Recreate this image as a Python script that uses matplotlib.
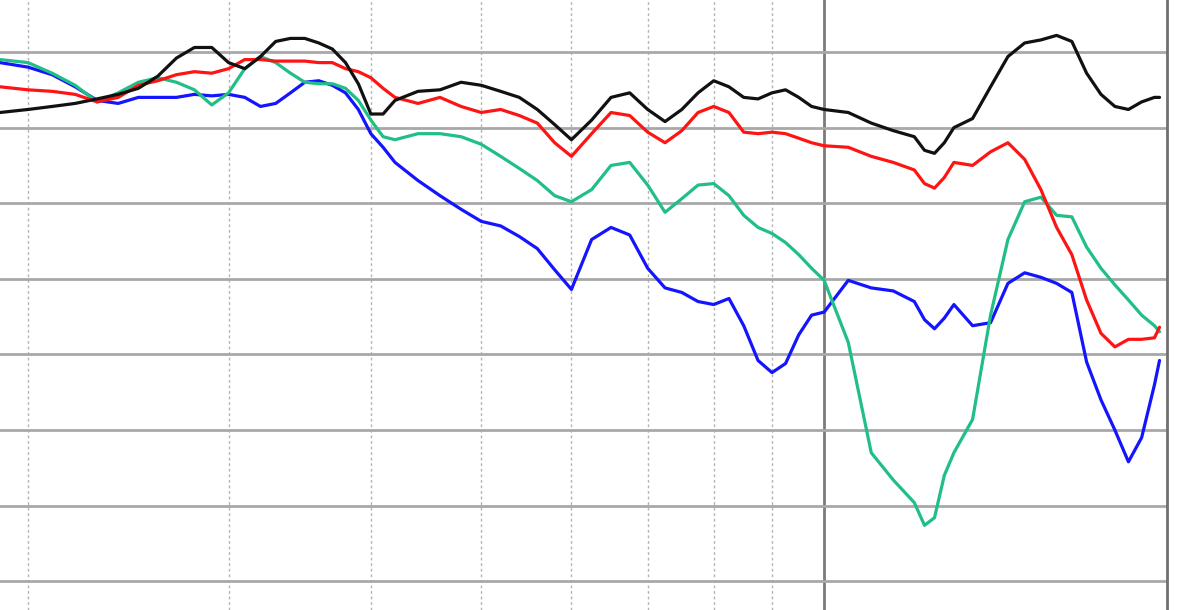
import numpy as np
import matplotlib
matplotlib.use("Agg")
import matplotlib.pyplot as plt
from matplotlib.ticker import FixedLocator, NullFormatter

# frequency points (log axis) and levels in dB
freq = [1.89, 2.0, 2.1, 2.2, 2.3, 2.4, 2.5, 2.6, 2.7, 2.8, 2.9, 3.0, 3.1, 3.2,
        3.3, 3.4, 3.5, 3.6, 3.7, 3.8, 3.9, 4.0, 4.1, 4.2, 4.4, 4.6, 4.8, 5.0,
        5.2, 5.4, 5.6, 5.8, 6.0, 6.25, 6.5, 6.75, 7.0, 7.25, 7.5, 7.75, 8.0,
        8.25, 8.5, 8.75, 9.0, 9.25, 9.5, 9.75, 10, 10.5, 11, 11.5, 12, 12.25,
        12.5, 12.75, 13, 13.5, 14, 14.5, 15, 15.5, 16, 16.5, 17, 17.5, 18,
        18.5, 19, 19.5, 19.7]

black = [-4.0, -3.8, -3.6, -3.4, -3.1, -2.8, -2.4, -1.6, -0.4, 0.3, 0.3, -0.7,
         -1.1, -0.3, 0.7, 0.9, 0.9, 0.6, 0.2, -0.7, -2.1, -4.1, -4.1, -3.2,
         -2.6, -2.5, -2.0, -2.2, -2.6, -3.0, -3.8, -4.8, -5.8, -4.5, -3.0, -2.7,
         -3.8, -4.6, -3.8, -2.7, -1.9, -2.3, -3.0, -3.1, -2.7, -2.5, -3.0, -3.6,
         -3.8, -4.0, -4.7, -5.2, -5.6, -6.5, -6.7, -6.0, -5.0, -4.4, -2.3, -0.3,
         0.6, 0.8, 1.1, 0.7, -1.4, -2.8, -3.6, -3.8, -3.3, -3.0, -3.0]

red = [-2.3, -2.5, -2.6, -2.8, -3.3, -3.0, -2.2, -1.9, -1.5, -1.3, -1.4, -1.1,
       -0.5, -0.5, -0.6, -0.6, -0.6, -0.7, -0.7, -1.1, -1.3, -1.7, -2.4, -3.0,
       -3.4, -3.0, -3.6, -4.0, -3.8, -4.2, -4.7, -6.0, -6.9, -5.4, -4.0, -4.2,
       -5.3, -6.0, -5.2, -4.0, -3.6, -4.0, -5.3, -5.4, -5.3, -5.4, -5.7, -6.0,
       -6.2, -6.3, -6.9, -7.3, -7.8, -8.7, -9.0, -8.3, -7.3, -7.5, -6.6, -6.0,
       -7.1, -9.1, -11.6, -13.4, -16.4, -18.6, -19.5, -19.0, -19.0, -18.9, -18.2]

green = [-0.5, -0.7, -1.4, -2.2, -3.3, -2.7, -2.0, -1.7, -2.0, -2.5, -3.5, -2.7,
         -1.1, -0.3, -0.7, -1.4, -2.0, -2.1, -2.1, -2.4, -3.2, -4.5, -5.6, -5.8,
         -5.4, -5.4, -5.6, -6.1, -6.9, -7.7, -8.5, -9.5, -9.9, -9.1, -7.5, -7.3,
         -8.8, -10.6, -9.7, -8.8, -8.7, -9.5, -10.8, -11.6, -12.0, -12.6, -13.4,
         -14.3, -15.1, -19.2, -26.5, -28.3, -29.8, -31.3, -30.8, -28.0, -26.5,
         -24.3, -17.4, -12.4, -9.9, -9.6, -10.8, -10.9, -12.9, -14.3, -15.4,
         -16.4, -17.4, -18.1, -18.5]

blue = [-0.7, -1.0, -1.5, -2.3, -3.2, -3.4, -3.0, -3.0, -3.0, -2.8, -2.9, -2.8,
        -3.0, -3.6, -3.4, -2.7, -2.0, -1.9, -2.2, -2.7, -3.8, -5.4, -6.3, -7.3,
        -8.5, -9.5, -10.4, -11.2, -11.5, -12.2, -13.0, -14.4, -15.7, -12.4,
        -11.6, -12.1, -14.3, -15.6, -15.9, -16.5, -16.7, -16.3, -18.1, -20.4,
        -21.2, -20.6, -18.7, -17.4, -17.2, -15.1, -15.6, -15.8, -16.5, -17.7,
        -18.3, -17.6, -16.7, -18.1, -17.9, -15.3, -14.6, -14.9, -15.3, -15.9,
        -20.5, -23.0, -25.0, -27.1, -25.5, -22.0, -20.4]

fig = plt.figure(figsize=(11.9, 6.1), dpi=100)
ax = fig.add_axes([0, 0, 1167 / 1190, 1])

style = dict(lw=2.3, solid_joinstyle="round", solid_capstyle="round")
ax.plot(freq, blue, color="#1414ff", **style)
ax.plot(freq, green, color="#1fbf86", **style)
ax.plot(freq, red, color="#ff1414", **style)
ax.plot(freq, black, color="#111111", **style)

ax.set_xscale("log")
ax.set_xlim(1.89, 20)
ax.set_ylim(-36.9, 3.44)

ax.xaxis.set_major_locator(FixedLocator([10]))
ax.xaxis.set_minor_locator(FixedLocator([2, 3, 4, 5, 6, 7, 8, 9]))
ax.yaxis.set_major_locator(FixedLocator(np.arange(-35, 1, 5)))
ax.xaxis.set_major_formatter(NullFormatter())
ax.xaxis.set_minor_formatter(NullFormatter())
ax.yaxis.set_major_formatter(NullFormatter())
ax.tick_params(which="both", length=0)

ax.grid(True, which="major", axis="y", color="#a8a8a8", lw=2, zorder=0)
ax.grid(True, which="major", axis="x", color="#7a7a7a", lw=2, zorder=0)
ax.grid(True, which="minor", axis="x", color="#b4b4b4", lw=1, ls=(0, (2, 2)), zorder=0)
ax.set_axisbelow(True)

for side in ["left", "top", "bottom"]:
    ax.spines[side].set_visible(False)
ax.spines["right"].set_color("#707070")
ax.spines["right"].set_linewidth(2)

fig.savefig("out.png", dpi=100)
